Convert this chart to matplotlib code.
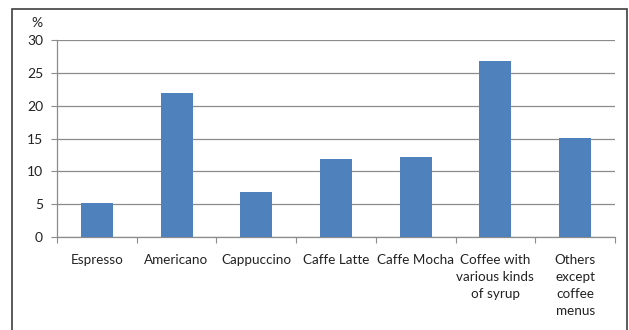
import matplotlib
matplotlib.use("Agg")
import matplotlib.pyplot as plt
from matplotlib.patches import Rectangle

categories = ["Espresso", "Americano", "Cappuccino", "Caffe Latte", "Caffe Mocha",
              "Coffee with\nvarious kinds\nof syrup", "Others\nexcept\ncoffee\nmenus"]
values = [5.2, 21.9, 6.9, 11.9, 12.2, 26.8, 15.1]
yticks = [0, 5, 10, 15, 20, 25, 30]

plt.rcParams['font.family'] = ['Lato', 'DejaVu Sans']

fig = plt.figure(figsize=(6.29, 3.30), dpi=100)
fig.patch.set_facecolor("white")
# outer chart border
fig.patches.append(Rectangle((12/629, -0.05), (627-12)/629, (330-9)/330 + 0.05,
                             transform=fig.transFigure, fill=False,
                             edgecolor="#404040", linewidth=1.2))

ax = fig.add_axes([57/629, 93/330, (615-57)/629, (237-40)/330])
x = list(range(len(categories)))
ax.bar(x, values, width=0.4, color="#4F81BD", zorder=3)

ax.set_xlim(-0.5, len(categories) - 0.5)
ax.set_ylim(0, 30)
ax.set_yticks(yticks)
ax.set_yticklabels([str(t) for t in yticks], fontsize=10, color="#222222")
ax.yaxis.grid(True, color="#8c8c8c", linewidth=0.9, zorder=0)

ax.set_xticks([i - 0.5 for i in range(len(categories) + 1)])
ax.set_xticklabels([])
ax.set_xticks(x, minor=True)
ax.set_xticklabels(categories, minor=True, fontsize=9.7, color="#222222",
                   va="top", linespacing=1.5)
ax.tick_params(axis="x", which="minor", length=0, pad=12)
ax.tick_params(axis="x", which="major", length=4, color="#8c8c8c", direction="out")
ax.tick_params(axis="y", length=4, color="#8c8c8c", pad=6)

for s in ["top", "right"]:
    ax.spines[s].set_visible(False)
for s in ["left", "bottom"]:
    ax.spines[s].set_color("#8c8c8c")
    ax.spines[s].set_linewidth(0.9)

fig.text(37/629, 1 - 23/330, "%", fontsize=10, color="#222222", ha="center", va="center")

fig.savefig("out.png", dpi=100)
